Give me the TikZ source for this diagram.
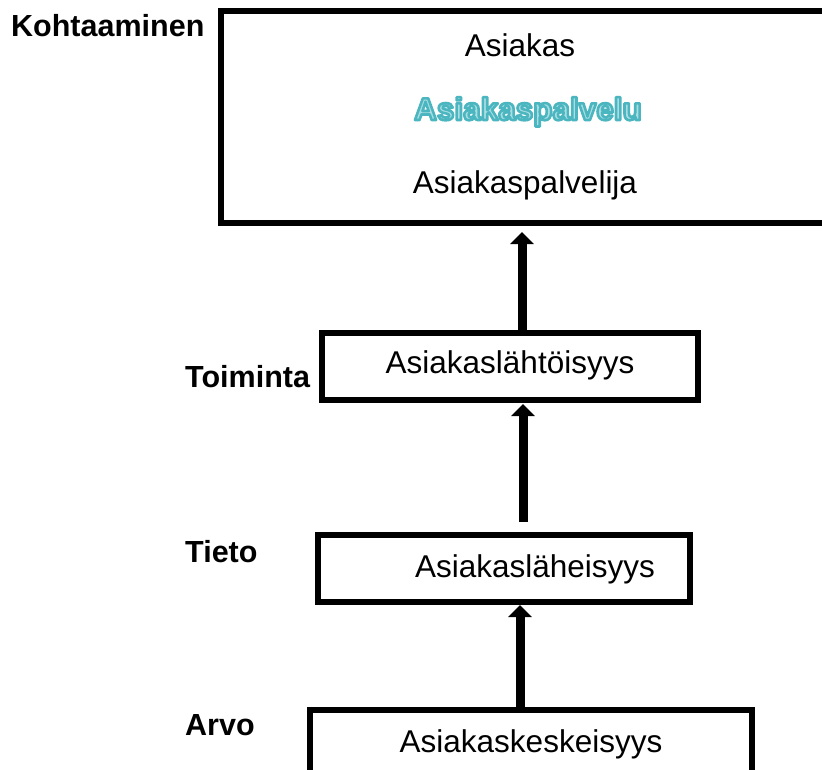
\documentclass[tikz,border=0pt]{standalone}
\usepackage{fontspec}
\setmainfont{Liberation Sans}
\usetikzlibrary{arrows.meta}
\definecolor{tealline}{RGB}{75,182,192}
\definecolor{tealfill}{RGB}{170,222,228}
\newcommand{\outlinedtext}[1]{{\color{tealfill}\special{pdf:literal direct 2 Tr 2.6 w 1 j 0.294 0.714 0.753 RG}#1\special{pdf:literal direct 0 Tr 1 w 0 j}}}
\begin{document}
\begin{tikzpicture}[x=1pt,y=-1pt,
  box/.style={draw=black,line width=5.5pt,fill=white,rectangle,inner sep=0pt,outer sep=0pt},
  txt/.style={anchor=base,inner sep=0pt,font=\fontsize{31.5}{36}\selectfont},
  lbl/.style={anchor=base west,inner sep=0pt,font=\fontsize{30.5}{36}\selectfont\bfseries},
  uparrow/.style={line width=9pt,-{Triangle[width=23pt,length=12pt]}}]
\useasboundingbox (0,0) rectangle (822,769);
% boxes
\node[box,minimum width=609pt,minimum height=212pt] (top) at (525.5,117) {};
\node[box,minimum width=376pt,minimum height=67pt] (b2) at (510,366.5) {};
\node[box,minimum width=372pt,minimum height=67pt] (b3) at (504,568.5) {};
\node[box,minimum width=442pt,minimum height=70pt] (b4) at (531,745) {};
% texts
\node[txt] (t1) at (520,56) {Asiakas};
\node[txt,font=\fontsize{31.5}{36}\selectfont\bfseries] (t2) at (528,120) {\outlinedtext{Asiakaspalvelu}};
\node[txt] (t3) at (525,193) {Asiakaspalvelija};
\node[txt] (t4) at (510,373) {Asiakaslähtöisyys};
\node[txt] (t5) at (535,577) {Asiakasläheisyys};
\node[txt] (t6) at (531,752) {Asiakaskeskeisyys};
% labels
\node[lbl] (l1) at (11,36) {Kohtaaminen};
\node[lbl] (l2) at (185,387) {Toiminta};
\node[lbl] (l3) at (185,562) {Tieto};
\node[lbl] (l4) at (185,735) {Arvo};
% arrows
\coordinate (a1s) at (522,333);
\coordinate (a1e) at (522,232);
\coordinate (a2s) at (523,522);
\coordinate (a2e) at (523,404);
\coordinate (a3s) at (520,710);
\coordinate (a3e) at (520,605);
\draw[uparrow] (a1s) -- (a1e);
\draw[uparrow] (a2s) -- (a2e);
\draw[uparrow] (a3s) -- (a3e);
\end{tikzpicture}
\end{document}
